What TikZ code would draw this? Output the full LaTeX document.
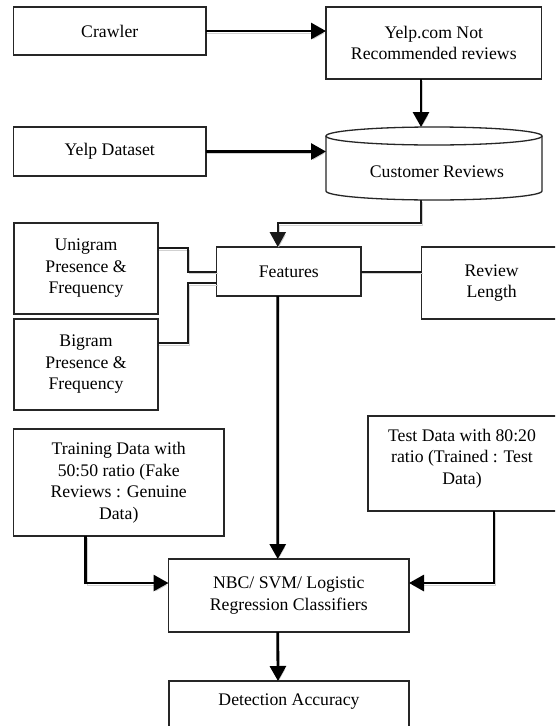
\documentclass[tikz,border=0pt]{standalone}
\usepackage{fontspec}
\setmainfont{Liberation Serif}
\usetikzlibrary{arrows.meta}
\begin{document}
\begin{tikzpicture}[x=1pt,y=-1pt,
  box/.style={draw=black!85, line width=1.3pt, align=center, inner sep=0pt, outer sep=0pt,
    font=\fontsize{17.7}{21.5}\selectfont},
  txt/.style={align=center, inner sep=0pt, font=\fontsize{17.7}{21.5}\selectfont},
  shad/.style={preaction={draw=black!18, transform canvas={xshift=1pt,yshift=-2pt}}},
  conn/.style={shad, line width=2pt, draw=black!90},
  bigconn/.style={shad, line width=2.8pt, draw=black},
  tip/.style={-{Triangle[length=15pt,width=16pt]}}
]
\useasboundingbox (0,0) rectangle (555,726);
\clip (0,0) rectangle (555,726);
\fill[white] (0,0) rectangle (555,726);

% boxes
\node[box, minimum width=192.5, minimum height=48] (crawler) at (109.75,31) {Crawler};
\node[box, minimum width=215.6, minimum height=72] (yelpcom) at (433.8,43) {Yelp.com Not\\Recommended reviews};
\node[box, minimum width=192.5, minimum height=49] (dataset) at (109.75,151.5) {Yelp Dataset};

% cylinder
\node[minimum width=216, minimum height=55, inner sep=0pt, outer sep=0pt] (cyl) at (434,163.5) {};
\draw[black!85, line width=1.3pt, fill=white] (cyl.north west) -- (cyl.south west)
  arc[start angle=180, end angle=360, x radius=108pt, y radius=9pt] -- (cyl.north east);
\draw[black!85, line width=1.3pt, fill=white] (cyl.north) ellipse[x radius=108pt, y radius=9pt];
\node[txt] (cyltext) at (437,172) {Customer Reviews};
\coordinate (cyltop) at (421,127);
\coordinate (cylbot) at (421,200);

\node[box, minimum width=144, minimum height=91] (unigram) at (86,268.5) {Unigram\\Presence \&\\Frequency};
\node[box, minimum width=144, minimum height=91] (bigram) at (86,364.5) {Bigram\\Presence \&\\Frequency};
\node[box, minimum width=144.3, minimum height=49] (features) at (288.8,271.5) {Features};
\node[box, minimum width=140, minimum height=72, text width=138] (review) at (491.7,283) {\raisebox{3pt}{\parbox{138pt}{\centering Review\\Length}}};
\node[box, minimum width=210.5, minimum height=107] (training) at (118.75,482.5) {Training Data with\\50:50 ratio (Fake\\Reviews : Genuine\\Data)};
\node[box, minimum width=194, minimum height=95] (test) at (465,463.5) {};
\node[txt] (testtext) at (462,458.5) {Test Data with 80:20\\ratio (Trained : Test\\Data)};
\node[box, minimum width=240.5, minimum height=73] (nbc) at (288.75,595.5) {NBC/ SVM/ Logistic\\Regression Classifiers};
\node[box, minimum width=240, minimum height=70] (detect) at (289,716) {};
\node[txt] (dtext) at (289,702) {Detection Accuracy};

% connectors
\draw[bigconn, tip] (crawler.east) -- (yelpcom.west |- crawler.east);
\draw[bigconn, tip] ([xshift=-12.8pt]yelpcom.south) -- (cyltop);
\draw[bigconn, tip] (dataset.east) -- (cyl.west |- dataset.east);
\draw[conn, tip] (cylbot) -- (421,223) -| ([xshift=-11pt]features.north);
\draw[conn] ([yshift=20.5pt]unigram.east) -| ([xshift=-28.7pt]features.west) -- (features.west);
\draw[conn] ([yshift=21.5pt]bigram.east) -| ([xshift=-28.7pt,yshift=-11.5pt]features.west) -- ([yshift=-11.5pt]features.west);
\draw[conn] (features.east) -- (review.west |- features.east);
\draw[bigconn, tip] ([xshift=-11pt]features.south) -- ([xshift=-11pt]nbc.north);
\draw[bigconn, tip] ([xshift=-33pt]training.south) |- ([yshift=12.5pt]nbc.west);
\draw[bigconn, tip] ([xshift=29pt]test.south) |- ([yshift=12.5pt]nbc.east);
\draw[bigconn, tip] ([xshift=-11pt]nbc.south) -- ([xshift=-11pt]detect.north);
\end{tikzpicture}
\end{document}
